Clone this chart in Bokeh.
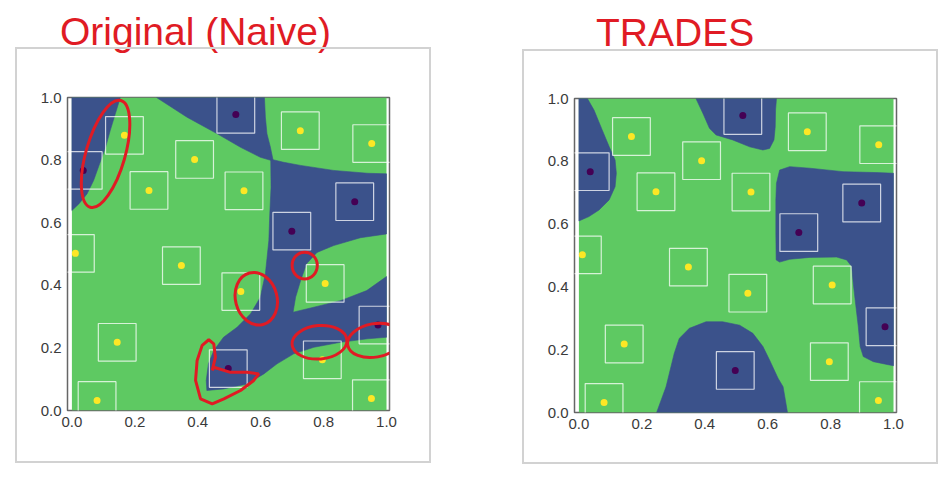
from bokeh.plotting import figure
from bokeh.layouts import row, column
from bokeh.models import Div, FixedTicker, PrintfTickFormatter
from bokeh.embed import file_html
from bokeh.resources import INLINE

# ---------------- data ----------------
TITLES = ["Original (Naive)", "TRADES"]
TICKS = [0.0, 0.2, 0.4, 0.6, 0.8, 1.0]

# training points (same in both panels) and their classes (0 = purple, 1 = yellow)
X_POINTS = [0.521, 0.167, 0.036, 0.390, 0.245, 0.547, 0.726, 0.953, 0.899, 0.699,
            0.011, 0.348, 0.537, 0.805, 0.973, 0.144, 0.796, 0.497, 0.080, 0.952]
Y_POINTS = [0.946, 0.879, 0.767, 0.802, 0.703, 0.702, 0.894, 0.853, 0.667, 0.573,
            0.502, 0.463, 0.380, 0.406, 0.273, 0.218, 0.162, 0.134, 0.032, 0.038]
CLASSES = [0, 1, 0, 1, 1, 1, 1, 1, 0, 0, 1, 1, 1, 1, 0, 1, 1, 0, 1, 1]
EPS_BOX = 0.12  # side of the perturbation box around each point

# class-0 (blue) decision regions, Original (Naive) model
NAIVE_BLUE_XS = [
    [0.0, 0.0, 0.154, 0.138, 0.122, 0.107, 0.088, 0.069, 0.048, 0.022],
    [0.269, 0.366, 0.462, 0.536, 0.599, 0.640, 0.631, 0.620, 0.615, 0.612],
    [0.632, 0.673, 0.727, 0.832, 0.939, 1.0, 1.0, 0.917, 0.832, 0.779, 0.746, 0.727,
     0.711, 0.703, 0.769, 0.854, 0.937, 1.0, 1.0, 0.939, 0.854, 0.769, 0.705, 0.652,
     0.610, 0.557, 0.482, 0.429, 0.427, 0.434, 0.451, 0.482, 0.525, 0.568, 0.599,
     0.615, 0.626, 0.629, 0.633],
]
NAIVE_BLUE_YS = [
    [0.639, 1.0, 1.0, 0.948, 0.895, 0.841, 0.788, 0.735, 0.692, 0.660],
    [1.0, 0.937, 0.884, 0.841, 0.809, 0.797, 0.841, 0.884, 0.937, 1.0],
    [0.803, 0.793, 0.783, 0.767, 0.758, 0.756, 0.564, 0.552, 0.527, 0.505, 0.469, 0.415,
     0.362, 0.314, 0.330, 0.351, 0.383, 0.428, 0.234, 0.229, 0.218, 0.202, 0.181, 0.149,
     0.117, 0.085, 0.069, 0.064, 0.096, 0.149, 0.192, 0.234, 0.266, 0.309, 0.362,
     0.437, 0.543, 0.628, 0.713],
]

# class-0 (blue) decision regions, TRADES model
TRADES_BLUE_XS = [
    [0.0, 0.032, 0.064, 0.096, 0.115, 0.119, 0.115, 0.096, 0.074, 0.048, 0.027, 0.0],
    [0.372, 0.394, 0.415, 0.436, 0.489, 0.543, 0.585, 0.606, 0.620, 0.624, 0.625, 0.628],
    [1.0, 0.947, 0.840, 0.734, 0.670, 0.638, 0.628, 0.626, 0.626, 0.627, 0.638, 0.670,
     0.734, 0.819, 0.851, 0.867, 0.872, 0.878, 0.888, 0.894, 0.904, 0.936, 0.979, 1.0],
    [0.247, 0.277, 0.303, 0.319, 0.351, 0.404, 0.457, 0.511, 0.553, 0.585, 0.606, 0.633,
     0.649, 0.663],
]
TRADES_BLUE_YS = [
    [0.610, 0.624, 0.645, 0.677, 0.719, 0.762, 0.804, 0.847, 0.900, 0.963, 1.0, 1.0],
    [1.0, 0.953, 0.905, 0.884, 0.868, 0.846, 0.836, 0.841, 0.868, 0.910, 0.963, 1.0],
    [0.762, 0.764, 0.767, 0.778, 0.783, 0.772, 0.730, 0.677, 0.571, 0.486, 0.479, 0.488,
     0.494, 0.495, 0.486, 0.465, 0.412, 0.359, 0.274, 0.210, 0.178, 0.162, 0.153, 0.149],
    [0.0, 0.082, 0.188, 0.236, 0.268, 0.289, 0.289, 0.278, 0.252, 0.210, 0.167, 0.109,
     0.082, 0.0],
]

# hand-drawn red loops on the naive panel: centre x, centre y, width, height, angle (deg)
LOOP_CX = [0.107, 0.740, 0.586, 0.787, 0.963]
LOOP_CY = [0.820, 0.463, 0.357, 0.218, 0.224]
LOOP_W = [0.353, 0.080, 0.132, 0.175, 0.175]
LOOP_H = [0.125, 0.086, 0.170, 0.107, 0.107]
LOOP_ANGLE = [74, 0, 15, 5, 10]
# hook-shaped loop around the lower tail
HOOK_X = [0.451, 0.504, 0.557, 0.594, 0.578, 0.536, 0.483, 0.446, 0.409, 0.393, 0.398,
          0.414, 0.435, 0.451, 0.456, 0.446]
HOOK_Y = [0.138, 0.122, 0.122, 0.117, 0.096, 0.064, 0.037, 0.021, 0.037, 0.096, 0.160,
          0.208, 0.226, 0.213, 0.170, 0.128]

# ---------------- styles / layout ----------------
BLUE = "#3b528b"
GREEN = "#5ec962"
PURPLE = "#440154"
YELLOW = "#fde725"
RED = "#e01b24"
BOX_GREY = "#d2d2d2"
FONT = "Liberation Sans"
X_RANGE = (-0.014, 1.0095)
Y_RANGE = (0.0, 1.0)
TITLE_STRIP = 60

# pixel geometry of each panel (column width, title placement, grey box, frame borders)
PANELS = [
    dict(col_w=475, title_left=60, title_top=12,
         box_w=416, box_h=416, box_margin=(47 - TITLE_STRIP, 44, 15, 15),
         borders=dict(left=52, right=42, top=50, bottom=53)),
    dict(col_w=475, title_left=121, title_top=13,
         box_w=416, box_h=415, box_margin=(49 - TITLE_STRIP, 12, 14, 47),
         borders=dict(left=52, right=42, top=49, bottom=52)),
]

BOX_CSS = ("linear-gradient(to right, {c} 0px, {c} 2px, transparent 2px, "
           "transparent calc(100% - 2px), {c} calc(100% - 2px)), "
           "linear-gradient(to bottom, {c} 0px, {c} 2px, transparent 2px, "
           "transparent calc(100% - 2px), {c} calc(100% - 2px))").format(c=BOX_GREY)


def make_title(geo, title):
    html = ('<div style="margin:0;padding:%dpx 0 0 %dpx;font-family:\'%s\';'
            'font-size:39px;line-height:39px;color:%s;white-space:nowrap;">%s</div>'
            % (geo["title_top"], geo["title_left"], FONT, RED, title))
    return Div(text=html, width=geo["col_w"], height=TITLE_STRIP, margin=(0, 0, 0, 0))


def make_panel(geo, blue_xs, blue_ys):
    b = geo["borders"]
    p = figure(width=geo["box_w"], height=geo["box_h"], x_range=X_RANGE, y_range=Y_RANGE,
               output_backend="svg", toolbar_location=None,
               min_border_left=b["left"], min_border_right=b["right"],
               min_border_top=b["top"], min_border_bottom=b["bottom"],
               margin=geo["box_margin"])
    p.styles = {"background-image": BOX_CSS}
    p.grid.visible = False
    p.background_fill_color = "white"
    p.border_fill_color = None
    p.outline_line_color = "#666666"
    p.outline_line_width = 1.5

    for ax in (p.xaxis, p.yaxis):
        ax.ticker = FixedTicker(ticks=TICKS)
        ax.formatter = PrintfTickFormatter(format="%.1f")
        ax.axis_line_color = None
        ax.major_tick_line_color = None
        ax.minor_tick_line_color = None
        ax.major_tick_out = 0
        ax.major_tick_in = 0
        ax.major_label_text_font = FONT
        ax.major_label_text_font_size = "15px"
        ax.major_label_text_color = "#3a3a3a"
    p.xaxis.major_label_standoff = 6
    p.yaxis.major_label_standoff = 6

    # decision regions
    p.quad(left=[0.0], right=[1.0], bottom=[0.0], top=[1.0],
           fill_color=GREEN, line_color=None)
    p.patches(xs=blue_xs, ys=blue_ys, fill_color=BLUE, line_color=BLUE, line_width=0.6)

    # perturbation boxes and points
    p.rect(x=X_POINTS, y=Y_POINTS, width=EPS_BOX, height=EPS_BOX, fill_color=None,
           line_color="white", line_alpha=0.75, line_width=1.2)
    colors = [PURPLE if c == 0 else YELLOW for c in CLASSES]
    p.scatter(x=X_POINTS, y=Y_POINTS, size=7, fill_color=colors, line_color=None)
    return p


p1 = make_panel(PANELS[0], NAIVE_BLUE_XS, NAIVE_BLUE_YS)
p2 = make_panel(PANELS[1], TRADES_BLUE_XS, TRADES_BLUE_YS)

# red hand-drawn loops on the naive panel
p1.ellipse(x=LOOP_CX, y=LOOP_CY, width=LOOP_W, height=LOOP_H, angle=LOOP_ANGLE,
           angle_units="deg", fill_color=None, line_color=RED, line_width=3)
p1.patch(x=HOOK_X, y=HOOK_Y, fill_color=None, line_color=RED, line_width=3)

left = column(make_title(PANELS[0], TITLES[0]), p1, spacing=0)
right = column(make_title(PANELS[1], TITLES[1]), p2, spacing=0)
layout = row(left, right, spacing=0)
open("out.html", "w").write(file_html(layout, INLINE))
